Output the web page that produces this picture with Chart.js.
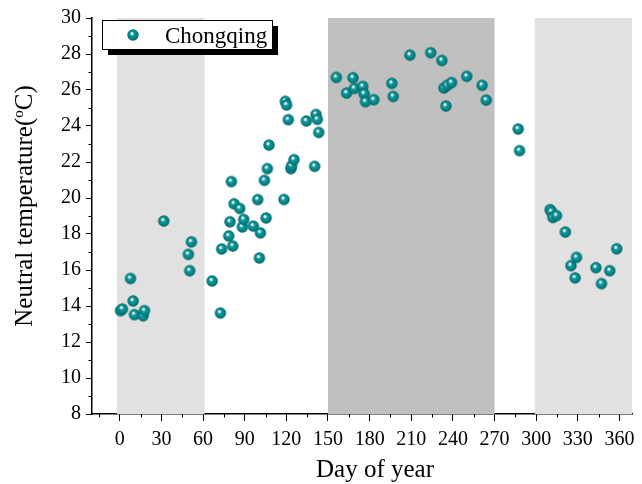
<!DOCTYPE html>
<html>
<head>
<meta charset="utf-8">
<script src="https://cdn.jsdelivr.net/npm/chart.js@4/dist/chart.umd.min.js"></script>
<style>
  html, body { margin: 0; padding: 0; background: #fff; }
  #wrap { width: 642px; height: 484px; position: relative; }
</style>
</head>
<body>
<div id="wrap"><canvas id="chart"></canvas></div>
<script>
// Day of year / neutral temperature
const dayOfYear = [
  0.5, 1.9, 7.7, 9.6, 10.6, 16.8, 17.8,
  31.7, 49.4, 50.4, 51.6, 66.5, 72.5, 73.4,
  78.5, 79.4, 80.4, 81.4, 82.3, 86.4, 88.3, 89.3,
  96.2, 99.4, 100.6, 101.3, 104.2, 105.4, 106.3, 107.5,
  118.3, 119.3, 120.2, 121.4, 123.3, 123.8, 125.5,
  134.4, 140.4, 141.4, 142.3, 143.3,
  156, 163.4, 168, 169, 175, 176, 177, 183,
  196, 197, 209, 224, 232, 233.5, 235, 236, 239,
  250, 261, 264,
  287, 288, 310, 311, 312, 314.6, 321, 325, 328, 329,
  343, 347, 353, 358
];
const neutralTemp = [
  13.74, 13.83, 15.53, 14.28, 13.52, 13.46, 13.74,
  18.72, 16.87, 15.96, 17.56, 15.39, 13.61, 17.17,
  17.89, 18.68, 20.91, 17.33, 19.68, 19.42, 18.39, 18.81,
  18.44, 19.91, 16.67, 18.06, 20.98, 18.89, 21.63, 22.94,
  19.92, 25.37, 25.17, 24.35, 21.63, 21.79, 22.13,
  24.28, 21.76, 24.64, 24.37, 23.64,
  26.7, 25.83, 26.68, 26.09, 26.2, 25.79, 25.35, 25.46,
  26.37, 25.64, 27.94, 28.07, 27.64, 26.11, 25.11, 26.26, 26.41,
  26.76, 26.26, 25.44,
  23.83, 22.63, 19.35, 19.24, 18.92, 19.02, 18.11, 16.24, 15.56, 16.7,
  16.13, 15.24, 15.96, 17.18
];
const seriesName = 'Chongqing';

const xTicks = [0, 30, 60, 90, 120, 150, 180, 210, 240, 270, 300, 330, 360];
const yTicks = [8, 10, 12, 14, 16, 18, 20, 22, 24, 26, 28, 30];
const xMinorTicks = [-15, 15, 45, 75, 105, 135, 165, 195, 225, 255, 285, 315, 345];
const yMinorTicks = [9, 11, 13, 15, 17, 19, 21, 23, 25, 27, 29];

// shaded seasons (day ranges)
const bandStart = [-2, 150, 299];
const bandEnd = [61, 270, 369];

const SERIF = '"Liberation Serif", "DejaVu Serif", serif';
const bandColors = ['#e1e1e1', '#c0c0c0', '#e1e1e1'];

// little shaded ball for the markers
function makeBall(r) {
    const c = document.createElement('canvas');
    const s = Math.ceil(r * 2) + 2;
    c.width = s; c.height = s;
    const g = c.getContext('2d');
    const cx = s / 2, cy = s / 2;
    const grad = g.createRadialGradient(cx - 1.3, cy - 1.8, 0.2, cx, cy, r);
    grad.addColorStop(0, '#ffffff');
    grad.addColorStop(0.15, '#cfeeee');
    grad.addColorStop(0.33, '#16999a');
    grad.addColorStop(0.75, '#008385');
    grad.addColorStop(1, '#005c5e');
    g.fillStyle = grad;
    g.beginPath();
    g.arc(cx, cy, r, 0, Math.PI * 2);
    g.fill();
    return c;
}
const ball = makeBall(5.7);

const bandsPlugin = {
    id: 'bands',
    beforeDatasetsDraw(chart) {
        const { ctx, chartArea, scales } = chart;
        ctx.save();
        bandStart.forEach((s, i) => {
            const x0 = Math.max(scales.x.getPixelForValue(s), chartArea.left);
            const x1 = Math.min(scales.x.getPixelForValue(bandEnd[i]), chartArea.right);
            ctx.fillStyle = bandColors[i];
            ctx.fillRect(x0, chartArea.top, x1 - x0, chartArea.bottom - chartArea.top);
        });
        ctx.restore();
    }
};

const extrasPlugin = {
    id: 'extras',
    afterDraw(chart) {
        const { ctx, chartArea, scales } = chart;
        ctx.save();

        // minor ticks
        ctx.strokeStyle = '#000';
        ctx.lineWidth = 1;
        ctx.beginPath();
        xMinorTicks.forEach(v => {
            const x = Math.round(scales.x.getPixelForValue(v)) + 0.5;
            ctx.moveTo(x, chartArea.bottom);
            ctx.lineTo(x, chartArea.bottom + 3.5);
        });
        yMinorTicks.forEach(v => {
            const y = Math.round(scales.y.getPixelForValue(v)) + 0.5;
            ctx.moveTo(chartArea.left, y);
            ctx.lineTo(chartArea.left - 3.5, y);
        });
        ctx.stroke();

        // legend box with drop shadow
        const lx = 102, ly = 20, lw = 170, lh = 29;
        ctx.fillStyle = '#000';
        ctx.fillRect(lx + 6, ly + 6, lw, lh);
        ctx.fillStyle = '#fff';
        ctx.fillRect(lx, ly, lw, lh);
        ctx.strokeStyle = '#000';
        ctx.lineWidth = 1;
        ctx.strokeRect(lx + 0.5, ly + 0.5, lw, lh);
        ctx.drawImage(ball, 133 - ball.width / 2, 35 - ball.height / 2);
        ctx.fillStyle = '#000';
        ctx.font = '23px ' + SERIF;
        ctx.textBaseline = 'alphabetic';
        ctx.textAlign = 'left';
        ctx.fillText(seriesName, 165, 43);

        // x title
        ctx.font = '25px ' + SERIF;
        ctx.textAlign = 'center';
        ctx.fillText('Day of year', 375, 477);

        // y title with superscript o
        const main = 'Neutral temperature(';
        const tail = 'C)';
        ctx.font = '25px ' + SERIF;
        const w1 = ctx.measureText(main).width;
        const w3 = ctx.measureText(tail).width;
        ctx.font = '15px ' + SERIF;
        const w2 = ctx.measureText('o').width;
        const total = w1 + w2 + w3;
        ctx.translate(32, 206);
        ctx.rotate(-Math.PI / 2);
        ctx.textAlign = 'left';
        let px = -total / 2;
        ctx.font = '25px ' + SERIF;
        ctx.fillText(main, px, 0);
        px += w1;
        ctx.font = '15px ' + SERIF;
        ctx.fillText('o', px, -9);
        px += w2;
        ctx.font = '25px ' + SERIF;
        ctx.fillText(tail, px, 0);

        ctx.restore();
    }
};

const points = dayOfYear.map((d, i) => ({ x: d, y: neutralTemp[i] }));

new Chart(document.getElementById('chart'), {
    type: 'scatter',
    data: {
        datasets: [{
            label: seriesName,
            data: points,
            pointStyle: ball,
            pointRadius: 5.7,
            pointHoverRadius: 5.7,
        }],
    },
    options: {
        responsive: true,
        maintainAspectRatio: false,
        animation: false,
        events: [],
        layout: { padding: { top: 18, right: 10, left: 0, bottom: 0 } },
        plugins: {
            legend: { display: false },
            tooltip: { enabled: false },
        },
        scales: {
            x: {
                type: 'linear',
                min: -20,
                max: 369,
                afterBuildTicks(scale) { scale.ticks = xTicks.map(v => ({ value: v })); },
                afterFit(scale) { scale.height = 70; },
                border: { color: '#000', width: 1.5 },
                grid: { drawOnChartArea: false, drawTicks: true, tickLength: 7, tickColor: '#000', tickWidth: 1 },
                ticks: {
                    color: '#000',
                    font: { family: SERIF, size: 20 },
                    padding: 7,
                    maxRotation: 0,
                    autoSkip: false,
                },
            },
            y: {
                type: 'linear',
                min: 8,
                max: 30,
                afterBuildTicks(scale) { scale.ticks = yTicks.map(v => ({ value: v })); },
                afterFit(scale) { scale.width = 92; },
                border: { color: '#000', width: 1.5 },
                grid: { drawOnChartArea: false, drawTicks: true, tickLength: 6, tickColor: '#000', tickWidth: 1 },
                ticks: {
                    color: '#000',
                    font: { family: SERIF, size: 20 },
                    padding: 5,
                    autoSkip: false,
                },
            },
        },
    },
    plugins: [bandsPlugin, extrasPlugin],
});
</script>
</body>
</html>
